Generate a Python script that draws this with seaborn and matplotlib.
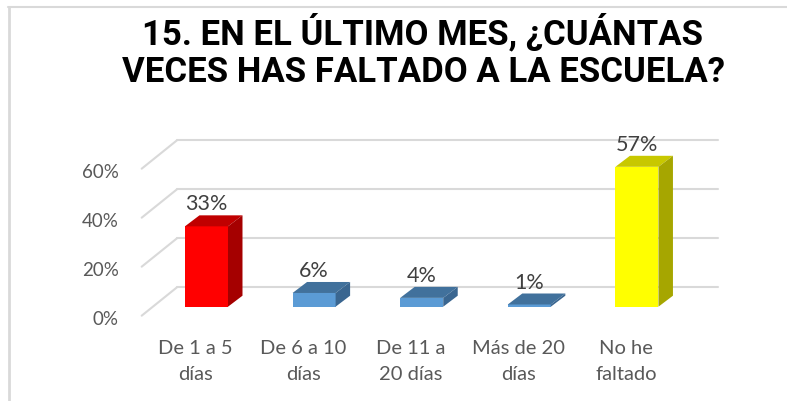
import pandas as pd
import seaborn as sns
import matplotlib.pyplot as plt
from matplotlib.patches import Polygon
from matplotlib.lines import Line2D
from matplotlib.transforms import ScaledTranslation, IdentityTransform

# data
categories = ["De 1 a 5\ndías", "De 6 a 10\ndías", "De 11 a\n20 días",
              "Más de 20\ndías", "No he\nfaltado"]
values = [32.8, 5.6, 3.6, 0.9, 57.1]
yticks = [0, 20, 40, 60]
title = "15. EN EL ÚLTIMO MES, ¿CUÁNTAS\nVECES HAS FALTADO A LA ESCUELA?"

front_colors = ["#FF0000", "#5B9BD5", "#5B9BD5", "#5B9BD5", "#FFFF00"]
top_colors = ["#C00000", "#41719C", "#41719C", "#41719C", "#C8C800"]
side_colors = ["#A50000", "#3A6690", "#3A6690", "#3A6690", "#A6A600"]

sns.set_style("white")
plt.rcParams["font.family"] = ["Lato", "DejaVu Sans"]

W, H = 787, 402
fig = plt.figure(figsize=(W / 100, H / 100), dpi=100)

# axes = plane where the bar fronts sit (pixel geometry of the reference)
px_per_unit = 2.45
ymax = 62
x_left, x_right = 141.9, 701.5
y_base = 307.7
ax = fig.add_axes([x_left / W, (H - y_base) / H,
                   (x_right - x_left) / W, ymax * px_per_unit / H])

df = pd.DataFrame({"cat": categories, "val": values})
sns.barplot(data=df, x="cat", y="val", hue="cat", palette=front_colors,
            width=0.4, saturation=1, legend=False, linewidth=0, ax=ax)

ax.set_xlim(-0.6, 4.6)
ax.set_ylim(0, ymax)
ax.set_xlabel("")
ax.set_ylabel("")
sns.despine(ax=ax, left=True, bottom=True)
ax.set_yticks(yticks)
ax.set_yticklabels([f"{t}%" for t in yticks])
ax.tick_params(axis="y", length=0, pad=16.5, labelsize=13.5, labelcolor="#595959")
ax.tick_params(axis="x", length=0, pad=23, labelsize=14.5, labelcolor="#595959")
ax.patch.set_alpha(0)

# tick labels live on the front plane of the 3D box
for lab in ax.get_yticklabels():
    lab.set_transform(lab.get_transform() + ScaledTranslation(0, -10 / 100, fig.dpi_scale_trans))
for lab in ax.get_xticklabels():
    lab.set_transform(lab.get_transform() + ScaledTranslation(-11 / 100, 0, fig.dpi_scale_trans))
    lab.set_linespacing(1.7)

# back wall gridlines + floor/wall diagonals
back = (24.1, 19.4)
front = (-11.2, -9.0)
xl, xr = -0.498, 4.527
grid_col = "#D9D9D9"
for t in yticks:
    (ax0, ay0), (ax1, ay1) = ax.transData.transform([(xl, t), (xr, t)])
    fig.add_artist(Line2D([ax0 + back[0], ax1 + back[0]], [ay0 + back[1], ay1 + back[1]],
                          transform=IdentityTransform(), color=grid_col, lw=1.5, zorder=0))
    fig.add_artist(Line2D([ax0 + front[0], ax0 + back[0]], [ay0 + front[1], ay0 + back[1]],
                          transform=IdentityTransform(), color=grid_col, lw=1.5, zorder=0))

# depth faces of each bar
dx, dy = 14.5, 11.0
for p, tc, sc in zip(ax.patches, top_colors, side_colors):
    x0, x1 = p.get_x(), p.get_x() + p.get_width()
    (px0, pyb), (px1, pyt) = ax.transData.transform([(x0, 0), (x1, p.get_height())])
    top = Polygon([(px0, pyt), (px1, pyt), (px1 + dx, pyt + dy), (px0 + dx, pyt + dy)],
                  closed=True, transform=IdentityTransform(), facecolor=tc,
                  edgecolor="none", clip_on=False)
    side = Polygon([(px1, pyb), (px1, pyt), (px1 + dx, pyt + dy), (px1 + dx, pyb + dy)],
                   closed=True, transform=IdentityTransform(), facecolor=sc,
                   edgecolor="none", clip_on=False)
    ax.add_artist(top)
    ax.add_artist(side)

for i, v in enumerate(values):
    ax.annotate(f"{v:.0f}%", (i, v), xytext=(0, 16.5), textcoords="offset points",
                ha="center", va="center", fontsize=15.5, color="#404040",
                annotation_clip=False)

fig.text(423 / W, 1 - 51 / H, title, ha="center", va="center", fontsize=25,
         fontweight="bold", family=["Roboto", "Liberation Sans", "DejaVu Sans"],
         linespacing=1.15, color="black")

# chart frame (top and left edges visible)
fig.add_artist(Line2D([8, W], [H - 8, H - 8], transform=IdentityTransform(), color="#D9D9D9", lw=1.5))
fig.add_artist(Line2D([9, 9], [0, H - 8], transform=IdentityTransform(), color="#D9D9D9", lw=2))

fig.savefig("out.png", dpi=100)
